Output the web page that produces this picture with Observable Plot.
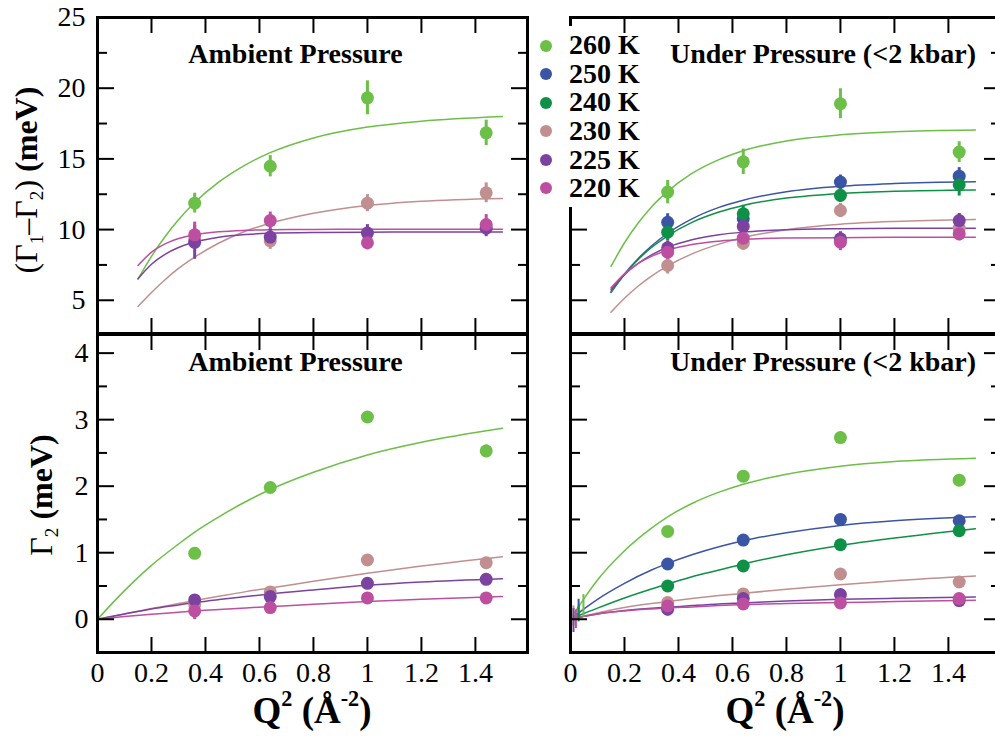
<!DOCTYPE html>
<html><head><meta charset="utf-8">
<script src="https://cdn.jsdelivr.net/npm/d3@7"></script>
<script src="https://cdn.jsdelivr.net/npm/@observablehq/plot@0.6"></script>
<style>
html,body{margin:0;padding:0;background:#fff;overflow:hidden;}
#root{position:relative;width:995px;height:744px;overflow:hidden;font-family:"Liberation Serif","Times New Roman",serif;color:#000;}
.panel{position:absolute;}
.panel svg{display:block;}
.ylab{position:absolute;transform:translate(-50%,-50%) rotate(-90deg);white-space:nowrap;line-height:1;font-size:32px;}
.xlab{position:absolute;transform:translateX(-50%);white-space:nowrap;line-height:1;font-size:37px;font-weight:bold;}
.sub{font-size:0.6em;position:relative;top:0.3em;}
.sup{font-size:0.6em;position:relative;top:-0.75em;}
.b{font-weight:bold;}
#legend{position:absolute;left:530px;top:26px;width:93px;height:181px;background:#fff;z-index:5;}
.lgdot{position:absolute;width:12px;height:12px;border-radius:50%;}
.lgtxt{position:absolute;font-size:28px;font-weight:bold;line-height:28px;white-space:nowrap;}
</style></head>
<body><div id="root"></div>
<script>
// ---------- data ----------
const q2 = [0.36, 0.64, 1.0, 1.44];
const tempsAll = ["260 K", "250 K", "240 K", "230 K", "225 K", "220 K"];
const colorsAll = ["#6cbf47", "#3b55a5", "#0f9047", "#c18f8f", "#7b42a0", "#bd4fa0"];
const ambTemps = ["260 K", "230 K", "225 K", "220 K"];

const xTicks = [0, 0.2, 0.4, 0.6, 0.8, 1, 1.2, 1.4];
const gapTicks = [5, 10, 15, 20, 25];
const gapMinor = [7.5, 12.5, 17.5, 22.5];
const wTicks = [0, 1, 2, 3, 4];
const wMinor = [0.5, 1.5, 2.5, 3.5];

// top-left: (Γ1-Γ2), ambient
const ambGapVal = [
  [11.87, 14.48, 19.32, 16.84],
  [9.3, 9.2, 11.87, 12.6],
  [9.1, 9.47, 9.75, 10.1],
  [9.63, 10.64, 9.07, 10.36]];
const ambGapErr = [
  [0.7, 0.75, 1.2, 0.9],
  [0.6, 0.6, 0.6, 0.7],
  [1.2, 0.6, 0.6, 0.6],
  [0.9, 0.6, 0.5, 0.7]];
const fitQGap = [0.15, 0.2, 0.25, 0.3, 0.36, 0.45, 0.55, 0.64, 0.8, 1.0, 1.2, 1.5];
const ambGapFit = [
  [6.5, 8.11, 9.49, 10.69, 11.91, 13.37, 14.6, 15.44, 16.48, 17.25, 17.67, 18.0],
  [4.56, 5.55, 6.45, 7.25, 8.05, 9.05, 9.9, 10.45, 11.15, 11.7, 12.0, 12.2],
  [6.52, 7.55, 8.25, 8.73, 9.12, 9.46, 9.65, 9.74, 9.8, 9.82, 9.83, 9.83],
  [7.46, 8.4, 8.99, 9.37, 9.64, 9.85, 9.95, 9.99, 10.01, 10.02, 10.02, 10.02]];

// top-right: (Γ1-Γ2), under pressure
const prsGapVal = [
  [12.65, 14.79, 18.9, 15.48],
  [10.52, 10.76, 13.36, 13.78],
  [9.82, 11.12, 12.42, 13.17],
  [7.46, 9.04, 11.35, 10.1],
  [8.71, 10.22, 9.35, 10.64],
  [8.4, 9.39, 9.11, 9.7]];
const prsGapErr = [
  [0.83, 0.9, 1.06, 0.73],
  [0.6, 0.6, 0.5, 0.6],
  [0.6, 0.6, 0.5, 0.8],
  [0.6, 0.5, 0.5, 0.5],
  [0.5, 0.6, 0.5, 0.5],
  [0.5, 0.5, 0.6, 0.5]];
const prsGapFit = [
  [7.39, 9.07, 10.45, 11.6, 12.7, 13.97, 14.95, 15.58, 16.27, 16.7, 16.92, 17.04],
  [5.57, 6.86, 7.94, 8.84, 9.74, 10.76, 11.57, 12.08, 12.68, 13.07, 13.26, 13.38],
  [5.57, 6.82, 7.87, 8.73, 9.56, 10.51, 11.24, 11.71, 12.23, 12.56, 12.71, 12.8],
  [4.16, 5.14, 5.99, 6.71, 7.43, 8.28, 8.97, 9.44, 9.99, 10.38, 10.58, 10.72],
  [5.74, 6.8, 7.6, 8.21, 8.75, 9.28, 9.63, 9.82, 9.99, 10.06, 10.09, 10.1],
  [5.88, 6.87, 7.59, 8.1, 8.54, 8.94, 9.18, 9.31, 9.4, 9.43, 9.45, 9.45]];

// bottom-left: Γ2, ambient
const fitQAmbW = [0, 0.1, 0.2, 0.3, 0.36, 0.45, 0.55, 0.64, 0.8, 1.0, 1.2, 1.5];
const ambWVal = [
  [0.99, 1.98, 3.04, 2.53],
  [0.22, 0.41, 0.89, 0.85],
  [0.29, 0.34, 0.54, 0.6],
  [0.125, 0.175, 0.32, 0.32]];
const ambWErr = [
  [0.03, 0.04, 0.08, 0.09],
  [0.04, 0.04, 0.04, 0.04],
  [0.04, 0.04, 0.04, 0.04],
  [0.13, 0.04, 0.04, 0.04]];
const ambWFit = [
  [0, 0.43, 0.81, 1.13, 1.31, 1.54, 1.77, 1.95, 2.21, 2.47, 2.66, 2.87],
  [0, 0.08, 0.16, 0.235, 0.28, 0.345, 0.415, 0.47, 0.57, 0.69, 0.8, 0.94],
  [0, 0.08, 0.155, 0.215, 0.25, 0.295, 0.34, 0.38, 0.44, 0.51, 0.56, 0.61],
  [0, 0.04, 0.075, 0.105, 0.125, 0.145, 0.17, 0.19, 0.225, 0.265, 0.3, 0.34]];

// bottom-right: Γ2, under pressure
const fitQPrsW = [0.01, 0.05, 0.1, 0.2, 0.3, 0.36, 0.45, 0.55, 0.64, 0.8, 1.0, 1.2, 1.5];
const prsWVal = [
  [1.32, 2.15, 2.73, 2.09],
  [0.83, 1.19, 1.5, 1.48],
  [0.5, 0.8, 1.12, 1.33],
  [0.25, 0.38, 0.68, 0.56],
  [0.15, 0.31, 0.37, 0.28],
  [0.2, 0.23, 0.245, 0.31]];
const prsWErr = [
  [0.04, 0.04, 0.05, 0.04],
  [0.04, 0.04, 0.04, 0.04],
  [0.04, 0.04, 0.04, 0.04],
  [0.08, 0.05, 0.04, 0.04],
  [0.1, 0.05, 0.05, 0.04],
  [0.05, 0.04, 0.04, 0.04]];
const prsWFit = [
  [0.066, 0.31, 0.59, 1.03, 1.37, 1.54, 1.74, 1.91, 2.03, 2.18, 2.3, 2.37, 2.42],
  [0.033, 0.157, 0.3, 0.54, 0.74, 0.84, 0.97, 1.09, 1.18, 1.3, 1.41, 1.48, 1.54],
  [0.017, 0.086, 0.167, 0.32, 0.455, 0.53, 0.64, 0.74, 0.83, 0.97, 1.11, 1.22, 1.36],
  [0.01, 0.05, 0.095, 0.175, 0.235, 0.265, 0.31, 0.355, 0.39, 0.45, 0.52, 0.58, 0.65],
  [0.01, 0.045, 0.08, 0.13, 0.165, 0.18, 0.205, 0.23, 0.245, 0.275, 0.3, 0.315, 0.335],
  [0.01, 0.045, 0.08, 0.125, 0.155, 0.17, 0.185, 0.205, 0.22, 0.235, 0.25, 0.265, 0.285]];
// very-low-Q points (error bars only) in bottom-right panel
const lowQ = [0.048, 0.03, 0.03, 0.011, 0.011, 0.02];
const lowQVal = [0.2, 0.15, 0.08, 0.05, -0.02, 0.0];
const lowQErr = [0.17, 0.15, 0.12, 0.15, 0.18, 0.14];

// ---------- helpers ----------
function pts(temps, vals, errs, qs) {
  const out = [];
  temps.forEach((T, i) => vals[i].forEach((v, j) => out.push({T, q: qs[j], v, e: errs[i][j]})));
  return out;
}
function fit(temps, qs, vals) {
  const out = [];
  temps.forEach((T, i) => vals[i].forEach((v, j) => out.push({T, q: qs[j], v})));
  return out;
}
const fmtX = d => String(+d.toFixed(1));

const W = 430; // plot area width
const root = document.getElementById("root");

function panel(o) {
  const marks = [
    Plot.line(o.curves, {x: "q", y: "v", z: "T", stroke: "T", strokeWidth: 1.5, curve: "monotone-x"}),
  ];
  if (o.extraErr) marks.push(Plot.ruleX(o.extraErr, {x: "q", y1: d => d.v - d.e, y2: d => d.v + d.e, stroke: "T", strokeWidth: 2}));
  marks.push(
    Plot.ruleX(o.pts, {x: "q", y1: d => d.v - d.e, y2: d => d.v + d.e, stroke: "T", strokeWidth: 3}),
    Plot.dot(o.pts, {x: "q", y: "v", fill: "T", r: 6.5}),
    // x axes (ticks inward)
    Plot.axisX(xTicks, {anchor: "bottom", tickSize: -15, tickPadding: 25, strokeWidth: 2, stroke: "black",
      fill: o.xLabels ? "black" : "none", tickFormat: fmtX, label: null}),
    Plot.axisX(xTicks, {anchor: "top", tickSize: -15, strokeWidth: 2, stroke: "black", fill: "none", label: null}),
    // y axes
    Plot.axisY(o.yMajor, {anchor: "left", tickSize: -17, tickPadding: 17 + o.yPad, strokeWidth: 2, stroke: "black",
      fill: o.yLabels ? "black" : "none", tickFormat: d => String(d), label: null}),
    Plot.axisY(o.yMinor, {anchor: "left", tickSize: -10, strokeWidth: 2, stroke: "black", fill: "none", label: null}),
    Plot.axisY(o.yMajor, {anchor: "right", tickSize: -17, strokeWidth: 2, stroke: "black", fill: "none", label: null}),
    Plot.axisY(o.yMinor, {anchor: "right", tickSize: -10, strokeWidth: 2, stroke: "black", fill: "none", label: null}),
    Plot.frame({stroke: "black", strokeWidth: 3}),
    Plot.text([o.title], {text: d => d, frameAnchor: "top", dx: o.tdx, dy: o.tdy, lineAnchor: "middle",
      fontWeight: "bold", fontSize: 28, fill: "black"})
  );
  const chart = Plot.plot({
    width: o.ml + W + o.mr, height: o.mt + o.h + o.mb,
    marginLeft: o.ml, marginRight: o.mr, marginTop: o.mt, marginBottom: o.mb,
    x: {domain: [0, 1.593], label: null},
    y: {domain: o.yDomain, label: null},
    color: {domain: tempsAll, range: colorsAll},
    style: {background: "transparent", overflow: "visible", fontFamily: "'Liberation Serif', 'Times New Roman', serif",
      fontSize: "28px", maxWidth: "none", color: "black"},
    marks
  });
  const div = document.createElement("div");
  div.className = "panel";
  div.style.left = o.left + "px";
  div.style.top = o.top + "px";
  div.style.width = (o.ml + W + o.mr) + "px";
  div.appendChild(chart);
  root.appendChild(div);
}

// top-left
panel({left: 0, top: 0, ml: 97, mr: 5, mt: 17, mb: 3, h: 316, yDomain: [2.65, 25],
  yMajor: gapTicks, yMinor: gapMinor, xLabels: false, yLabels: true, yPad: 12,
  pts: pts(ambTemps, ambGapVal, ambGapErr, q2), curves: fit(ambTemps, fitQGap, ambGapFit),
  title: "Ambient Pressure", tdx: -17, tdy: 37});
// top-right
panel({left: 540, top: 0, ml: 30, mr: 5, mt: 17, mb: 3, h: 316, yDomain: [2.65, 25],
  yMajor: gapTicks, yMinor: gapMinor, xLabels: false, yLabels: false, yPad: 12,
  pts: pts(tempsAll, prsGapVal, prsGapErr, q2), curves: fit(tempsAll, fitQGap, prsGapFit),
  title: "Under Pressure (<2 kbar)", tdx: 37.5, tdy: 37});
// bottom-left
panel({left: 0, top: 320, ml: 97, mr: 5, mt: 14, mb: 50, h: 318, yDomain: [-0.5, 4.28],
  yMajor: wTicks, yMinor: wMinor, xLabels: true, yLabels: true, yPad: 9,
  pts: pts(ambTemps, ambWVal, ambWErr, q2), curves: fit(ambTemps, fitQAmbW, ambWFit),
  title: "Ambient Pressure", tdx: -17, tdy: 28});
// bottom-right
panel({left: 540, top: 320, ml: 30, mr: 5, mt: 14, mb: 50, h: 318, yDomain: [-0.5, 4.28],
  yMajor: wTicks, yMinor: wMinor, xLabels: true, yLabels: false, yPad: 9,
  pts: pts(tempsAll, prsWVal, prsWErr, q2), curves: fit(tempsAll, fitQPrsW, prsWFit),
  extraErr: tempsAll.map((T, i) => ({T, q: lowQ[i], v: lowQVal[i], e: lowQErr[i]})),
  title: "Under Pressure (<2 kbar)", tdx: 37.5, tdy: 28});

// ---------- axis titles ----------
function addHTML(cls, html, left, top) {
  const d = document.createElement("div");
  d.className = cls;
  d.innerHTML = html;
  d.style.left = left + "px";
  d.style.top = top + "px";
  root.appendChild(d);
  return d;
}
addHTML("ylab", '(Γ<span class="sub">1</span>–Γ<span class="sub">2</span>) <span class="b">(meV)</span>', 26, 180);
addHTML("ylab", 'Γ<span class="sub">2</span> <span class="b">(meV)</span>', 41, 495);
const xTitle = 'Q<span class="sup">2</span> (Å<span class="sup">-2</span>)';
addHTML("xlab", xTitle, 312, 692);
addHTML("xlab", xTitle, 785, 692);

// ---------- legend ----------
const legend = document.createElement("div");
legend.id = "legend";
root.appendChild(legend);
const legendRowY = [45.7, 74.3, 102.7, 131, 160, 188.3];
tempsAll.forEach((T, i) => {
  const cy = legendRowY[i] - 26;
  const dot = document.createElement("div");
  dot.className = "lgdot";
  dot.style.background = colorsAll[i];
  dot.style.left = (546 - 530 - 6) + "px";
  dot.style.top = (cy - 6) + "px";
  legend.appendChild(dot);
  const t = document.createElement("div");
  t.className = "lgtxt";
  t.textContent = T;
  t.style.left = (569 - 530) + "px";
  t.style.top = (cy - 14.5) + "px";
  legend.appendChild(t);
});
</script>
</body></html>
